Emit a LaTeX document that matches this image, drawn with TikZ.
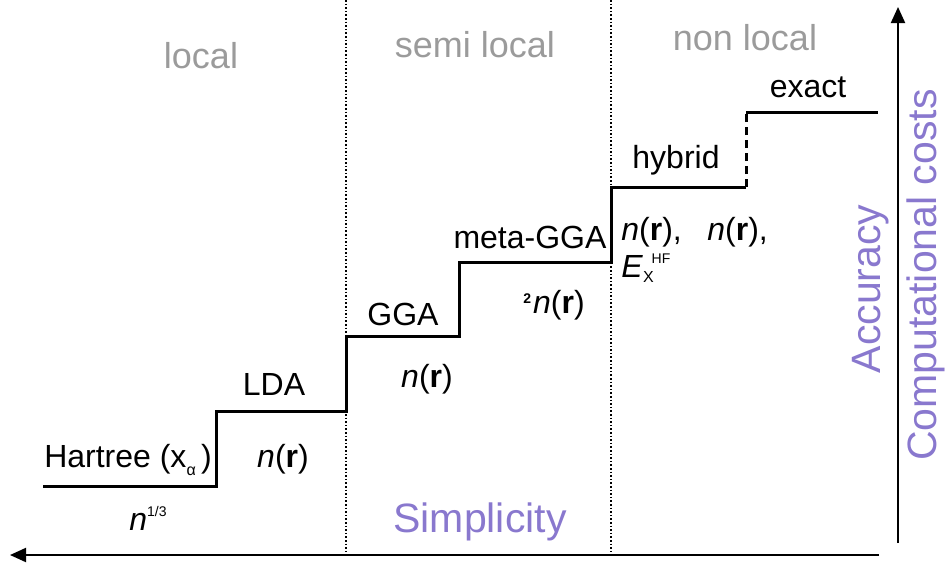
\documentclass[tikz,border=0pt]{standalone}
\usepackage{fontspec}
\setmainfont{Liberation Sans}
\usetikzlibrary{
  arrows.meta,
  positioning,  % relative placement
}
\definecolor{myviolet}{RGB}{137,120,206}
\definecolor{mygray}{RGB}{155,155,155}
\def\mystep{1.5pt}
\def\myaxis{1pt}
\newcommand{\upidx} [2]{\raisebox{#1}{\fontsize{7}{8}\selectfont #2}}
\newcommand{\lowidx}[2]{\raisebox{-#1}{\fontsize{8}{9}\selectfont #2}}
\tikzset{
  >={Triangle[length=8pt,width=7pt]},
  stair/.style={
    line width=\mystep
  },
  stair dashed/.style={
    line width=\mystep,
    dash pattern=on 4pt off 2.5pt
  },
  divider/.style={
    line width=0.8pt,
    dash pattern=on 0.8pt off 1pt
  },
  my axis/.style={
    ->,
    line width=\myaxis
  },
  range label/.style={
    text=mygray,
    font=\fontsize{18}{20}\selectfont,
    anchor=base,
    inner sep=0pt
  },
  rung label/.style={
    font=\fontsize{16}{18}\selectfont,
    anchor=base,
    inner sep=0pt
  },
  axis label/.style={
    text=myviolet,
    font=\fontsize{20.5}{22}\selectfont,
    anchor=base,
    inner sep=0pt
  }
}

\begin{document}
\begin{tikzpicture}[x=0.5pt,y=-0.5pt]
\useasboundingbox (0,0) rectangle (946,563);

% corners of the stairs
\coordinate (h0) at (43,486);
\coordinate (h1) at (216,486);
\coordinate (l0) at (216,411);
\coordinate (l1) at (346,411);
\coordinate (g0) at (346,336);
\coordinate (g1) at (459,336);
\coordinate (m0) at (459,262);
\coordinate (m1) at (611,262);
\coordinate (y0) at (611,187);
\coordinate (y1) at (746,187);
\coordinate (e0) at (746,112);
\coordinate (e1) at (878,112);

\draw[stair] (h0) -- (h1) -- (l0) -- (l1) -- (g0) -- (g1) -- (m0) -- (m1) -- (y0) -- (y1);
\draw[stair dashed] (y1) -- (e0);
\draw[stair] (e0) -- (e1);

% dividers
\coordinate (s1t) at (346,0);
\coordinate (s1b) at (346,553);
\coordinate (s2t) at (611,0);
\coordinate (s2b) at (611,553);
\draw[divider] (s1t) -- (s1b);
\draw[divider] (s2t) -- (s2b);

% axes
\coordinate (xr) at (879,555);
\coordinate (xl) at (10,555);
\coordinate (yb) at (898,543);
\coordinate (yt) at (898,7);
\draw[my axis] (xr) -- (xl);
\draw[my axis] (yb) -- (yt);

% ranges
\node[range label] (local)    at (201,68) {local};
\node[range label] (semi)     at (475,57) {semi local};
\node[range label] (nonlocal) at (745,50) {non local};

% rungs
\node[rung label] (hartree) at (128,467) {Hartree (x\lowidx{4pt}{α}\,)};
\node[rung label] (lda)     at (274,395) {LDA};
\node[rung label] (gga)     at (403,325) {GGA};
\node[rung label] (meta)    at (530,248) {meta-GGA};
\node[rung label] (hybrid)  at (676,168) {hybrid};
\node[rung label] (exact)   at (808,97)  {exact};

% ingredients
\node[rung label] (in1) at (148,530) {\textit{n}\upidx{7pt}{1/3}};
\node[rung label] (in2) at (283,467) {\textit{n}(\textbf{r})};
\node[rung label] (in3) at (427,387) {\textit{n}(\textbf{r})};
\node[rung label] (in4) at (554,313) {\raisebox{5pt}{\fontsize{7}{8}\selectfont\textbf{2}}\kern1pt\textit{n}(\textbf{r})};
\node[rung label,anchor=base west] (in5) at (621,240) {\textit{n}(\textbf{r}),};
\node[rung label,anchor=base west] (in5b) at (621,277) {\textit{E}\lowidx{2.5pt}{X}\kern-1pt\upidx{7pt}{HF}};
\node[rung label,anchor=base west] (in6) at (707,240) {\textit{n}(\textbf{r}),};

% axis titles
\node[axis label] (simple) at (480,532) {Simplicity};
\node[axis label,rotate=90] (accur) at (880,289) {Accuracy};
\node[axis label,rotate=90] (costs) at (936,275) {Computational costs};
\end{tikzpicture}
\end{document}
